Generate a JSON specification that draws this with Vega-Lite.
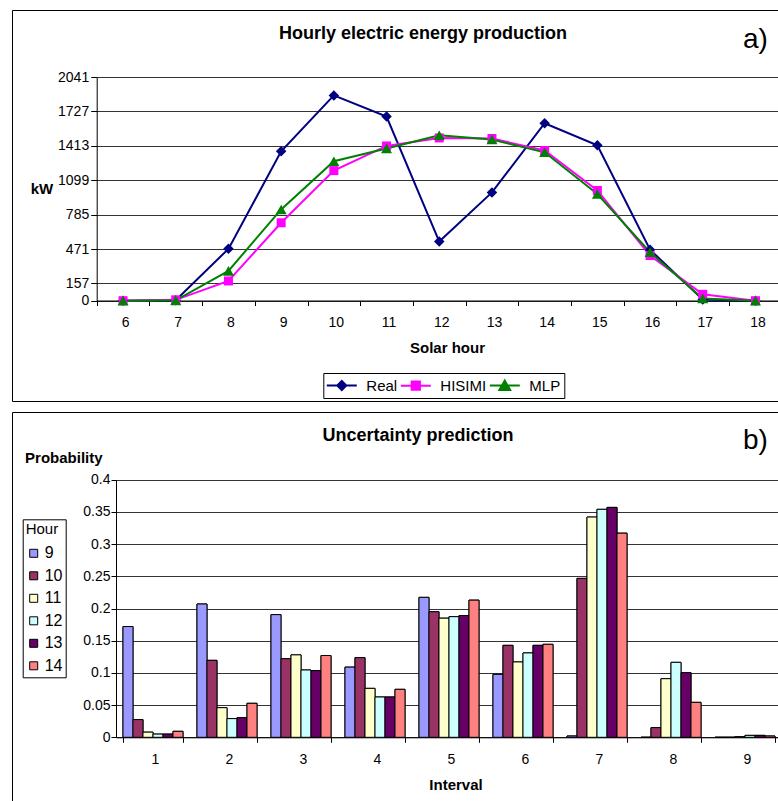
{
  "$schema": "https://vega.github.io/schema/vega-lite/v6.json",
  "padding": {"left": 11, "top": 9, "right": 0, "bottom": 0},
  "spacing": 11,
  "bounds": "flush",
  "resolve": {"scale": {"color": "independent"}, "legend": {"color": "independent"}},
  "vconcat": [
    {
      "width": 775,
      "height": 391,
      "data": {"values": [
        {"hour": 6, "series": "Real", "kW": 0}, {"hour": 7, "series": "Real", "kW": 5}, {"hour": 8, "series": "Real", "kW": 473}, {"hour": 9, "series": "Real", "kW": 1363}, {"hour": 10, "series": "Real", "kW": 1873}, {"hour": 11, "series": "Real", "kW": 1680}, {"hour": 12, "series": "Real", "kW": 540}, {"hour": 13, "series": "Real", "kW": 988}, {"hour": 14, "series": "Real", "kW": 1619}, {"hour": 15, "series": "Real", "kW": 1418}, {"hour": 16, "series": "Real", "kW": 465}, {"hour": 17, "series": "Real", "kW": 10}, {"hour": 18, "series": "Real", "kW": 0},
        {"hour": 6, "series": "HISIMI", "kW": 0}, {"hour": 7, "series": "HISIMI", "kW": 8}, {"hour": 8, "series": "HISIMI", "kW": 180}, {"hour": 9, "series": "HISIMI", "kW": 711}, {"hour": 10, "series": "HISIMI", "kW": 1187}, {"hour": 11, "series": "HISIMI", "kW": 1412}, {"hour": 12, "series": "HISIMI", "kW": 1485}, {"hour": 13, "series": "HISIMI", "kW": 1480}, {"hour": 14, "series": "HISIMI", "kW": 1370}, {"hour": 15, "series": "HISIMI", "kW": 1006}, {"hour": 16, "series": "HISIMI", "kW": 412}, {"hour": 17, "series": "HISIMI", "kW": 58}, {"hour": 18, "series": "HISIMI", "kW": 0},
        {"hour": 6, "series": "MLP", "kW": 0}, {"hour": 7, "series": "MLP", "kW": 3}, {"hour": 8, "series": "MLP", "kW": 272}, {"hour": 9, "series": "MLP", "kW": 833}, {"hour": 10, "series": "MLP", "kW": 1272}, {"hour": 11, "series": "MLP", "kW": 1388}, {"hour": 12, "series": "MLP", "kW": 1510}, {"hour": 13, "series": "MLP", "kW": 1470}, {"hour": 14, "series": "MLP", "kW": 1354}, {"hour": 15, "series": "MLP", "kW": 973}, {"hour": 16, "series": "MLP", "kW": 442}, {"hour": 17, "series": "MLP", "kW": 21}, {"hour": 18, "series": "MLP", "kW": 0}
      ]},
      "title": {"text": "Hourly electric energy production", "anchor": "middle", "frame": "group", "offset": 0, "baseline": "middle", "dx": 23.5, "dy": 41.6},
      "layer": [
        {
          "mark": {"type": "line", "strokeWidth": 2},
          "encoding": {
            "x": {"field": "hour", "type": "ordinal", "scale": {"range": [84.7, 769.8], "paddingInner": 0, "paddingOuter": 0},
              "axis": {"orient": "bottom", "offset": -100.5, "title": "Solar hour", "titleFontSize": 15, "titleFontWeight": "bold", "titleX": 435, "titleY": 47, "titleBaseline": "middle", "titleAlign": "center", "labelAngle": 0, "labelFontSize": 14, "labelPadding": 17, "labelBaseline": "middle", "labelOffset": 2, "tickBand": "extent", "tickSize": 5, "grid": false}},
            "y": {"field": "kW", "type": "quantitative", "scale": {"domain": [0, 2041], "range": [290.7, 67], "nice": false, "zero": true},
              "axis": {"values": [0, 157, 471, 785, 1099, 1413, 1727, 2041], "format": "d", "offset": -84.7, "tickSize": 6, "labelPadding": 2, "labelFontSize": 14, "labelOverlap": false, "grid": true, "title": "kW", "titleAngle": 0, "titleX": -55.2, "titleY": 178.5, "titleAlign": "center", "titleBaseline": "middle", "titleFontSize": 15, "titleFontWeight": "bold"}},
            "color": {"field": "series", "type": "nominal", "scale": {"domain": ["Real", "HISIMI", "MLP"], "range": ["#000080", "#FF00FF", "#008000"]},
              "legend": {"orient": "none", "legendX": 311.3, "legendY": 363, "direction": "horizontal", "title": null, "strokeColor": "black", "fillColor": "white", "padding": 4, "labelFontSize": 15, "symbolSize": 225, "symbolOffset": 6, "labelOffset": 16, "columnPadding": -1, "symbolStrokeWidth": 2,
                "encode": {"symbols": {"update": {
                  "shape": {"signal": "datum.value === 'Real' ? 'M-2,0H2M0,-0.6L0.6,0L0,0.6L-0.6,0Z' : datum.value === 'HISIMI' ? 'M-2,0H2M-0.55,-0.55H0.55V0.55H-0.55Z' : 'M-2,0H2M0,-0.65L0.72,0.6H-0.72Z'"},
                  "fill": {"signal": "datum.value === 'Real' ? '#000080' : datum.value === 'HISIMI' ? '#FF00FF' : '#008000'"},
                  "stroke": {"signal": "datum.value === 'Real' ? '#000080' : datum.value === 'HISIMI' ? '#FF00FF' : '#008000'"},
                  "strokeWidth": {"value": 2},
                  "opacity": {"value": 1}
                }}}}}
          }
        },
        {
          "transform": [{"filter": "datum.series === 'Real'"}],
          "mark": {"type": "point", "shape": "diamond", "size": 110, "filled": true, "opacity": 1},
          "encoding": {
            "x": {"field": "hour", "type": "ordinal",
              "axis": {"orient": "top", "title": "a)", "titleX": 743, "titleY": 29, "titleFontSize": 28, "titleFontWeight": "normal", "titleBaseline": "middle", "titleAlign": "center", "labels": false, "ticks": false, "domain": false, "grid": false}},
            "y": {"field": "kW", "type": "quantitative"},
            "color": {"field": "series", "type": "nominal"}
          }
        },
        {
          "transform": [{"filter": "datum.series === 'HISIMI'"}],
          "mark": {"type": "point", "shape": "square", "size": 81, "filled": true, "opacity": 1},
          "encoding": {
            "x": {"field": "hour", "type": "ordinal", "axis": null},
            "y": {"field": "kW", "type": "quantitative"},
            "color": {"field": "series", "type": "nominal"}
          }
        },
        {
          "transform": [{"filter": "datum.series === 'MLP'"}],
          "mark": {"type": "point", "shape": "triangle-up", "size": 121, "filled": true, "opacity": 1},
          "encoding": {
            "x": {"field": "hour", "type": "ordinal", "axis": null},
            "y": {"field": "kW", "type": "quantitative"},
            "color": {"field": "series", "type": "nominal"}
          }
        }
      ],
      "resolve": {"axis": {"x": "independent"}}
    },
    {
      "width": 775,
      "height": 395,
      "data": {"values": [
        {"interval": 1, "hour": "9", "p": 0.172}, {"interval": 1, "hour": "10", "p": 0.0275}, {"interval": 1, "hour": "11", "p": 0.008}, {"interval": 1, "hour": "12", "p": 0.005}, {"interval": 1, "hour": "13", "p": 0.005}, {"interval": 1, "hour": "14", "p": 0.0093},
        {"interval": 2, "hour": "9", "p": 0.207}, {"interval": 2, "hour": "10", "p": 0.1195}, {"interval": 2, "hour": "11", "p": 0.046}, {"interval": 2, "hour": "12", "p": 0.029}, {"interval": 2, "hour": "13", "p": 0.0305}, {"interval": 2, "hour": "14", "p": 0.0528},
        {"interval": 3, "hour": "9", "p": 0.1905}, {"interval": 3, "hour": "10", "p": 0.122}, {"interval": 3, "hour": "11", "p": 0.128}, {"interval": 3, "hour": "12", "p": 0.1045}, {"interval": 3, "hour": "13", "p": 0.1035}, {"interval": 3, "hour": "14", "p": 0.127},
        {"interval": 4, "hour": "9", "p": 0.109}, {"interval": 4, "hour": "10", "p": 0.1237}, {"interval": 4, "hour": "11", "p": 0.076}, {"interval": 4, "hour": "12", "p": 0.0626}, {"interval": 4, "hour": "13", "p": 0.0626}, {"interval": 4, "hour": "14", "p": 0.0745},
        {"interval": 5, "hour": "9", "p": 0.2173}, {"interval": 5, "hour": "10", "p": 0.195}, {"interval": 5, "hour": "11", "p": 0.185}, {"interval": 5, "hour": "12", "p": 0.1873}, {"interval": 5, "hour": "13", "p": 0.189}, {"interval": 5, "hour": "14", "p": 0.213},
        {"interval": 6, "hour": "9", "p": 0.0978}, {"interval": 6, "hour": "10", "p": 0.1428}, {"interval": 6, "hour": "11", "p": 0.117}, {"interval": 6, "hour": "12", "p": 0.131}, {"interval": 6, "hour": "13", "p": 0.1428}, {"interval": 6, "hour": "14", "p": 0.1444},
        {"interval": 7, "hour": "9", "p": 0.002}, {"interval": 7, "hour": "10", "p": 0.2468}, {"interval": 7, "hour": "11", "p": 0.342}, {"interval": 7, "hour": "12", "p": 0.354}, {"interval": 7, "hour": "13", "p": 0.357}, {"interval": 7, "hour": "14", "p": 0.317},
        {"interval": 8, "hour": "9", "p": 0}, {"interval": 8, "hour": "10", "p": 0.015}, {"interval": 8, "hour": "11", "p": 0.091}, {"interval": 8, "hour": "12", "p": 0.1164}, {"interval": 8, "hour": "13", "p": 0.1004}, {"interval": 8, "hour": "14", "p": 0.0543},
        {"interval": 9, "hour": "9", "p": 0}, {"interval": 9, "hour": "10", "p": 0}, {"interval": 9, "hour": "11", "p": 0.001}, {"interval": 9, "hour": "12", "p": 0.003}, {"interval": 9, "hour": "13", "p": 0.003}, {"interval": 9, "hour": "14", "p": 0.002}
      ]},
      "title": {"text": "Uncertainty prediction", "anchor": "middle", "frame": "group", "offset": 0, "baseline": "middle", "dx": 18.5, "dy": 42.3},
      "layer": [
        {
          "mark": {"type": "bar", "stroke": "black", "strokeWidth": 1},
          "encoding": {
            "x": {"field": "interval", "type": "ordinal", "scale": {"range": [104, 770], "paddingInner": 0.189, "paddingOuter": 0.0945},
              "axis": {"orient": "bottom", "offset": -69.7, "title": "Interval", "titleFontSize": 15, "titleFontWeight": "bold", "titleX": 443.5, "titleY": 46.7, "titleBaseline": "middle", "titleAlign": "center", "labelAngle": 0, "labelFontSize": 14, "labelPadding": 17, "labelBaseline": "middle", "labelOffset": 2, "tickBand": "extent", "tickSize": 5, "grid": false}},
            "xOffset": {"field": "hour", "type": "nominal", "scale": {"domain": ["9", "10", "11", "12", "13", "14"], "paddingInner": 0, "paddingOuter": 0}},
            "y": {"field": "p", "type": "quantitative", "scale": {"domain": [0, 0.4], "range": [325.3, 67.7], "nice": false},
              "axis": {"values": [0, 0.05, 0.1, 0.15, 0.2, 0.25, 0.3, 0.35, 0.4], "format": "~g", "offset": -104, "tickSize": 5, "labelPadding": 1, "labelFontSize": 14, "labelOverlap": false, "grid": true, "title": "Probability", "titleAngle": 0, "titleX": -52.7, "titleY": 45.7, "titleAlign": "center", "titleBaseline": "middle", "titleFontSize": 15, "titleFontWeight": "bold"}},
            "color": {"field": "hour", "type": "nominal", "scale": {"domain": ["9", "10", "11", "12", "13", "14"], "range": ["#9999FF", "#993366", "#FFFFCC", "#CCFFFF", "#660066", "#FF8080"]},
              "legend": {"orient": "none", "legendX": 10.7, "legendY": 107.3, "direction": "vertical", "title": "Hour", "titleFontSize": 15, "titleFontWeight": "normal", "titlePadding": 8, "strokeColor": "black", "fillColor": "white", "padding": 3, "labelFontSize": 16, "labelOffset": 3, "rowPadding": 6.5, "symbolType": "square", "symbolSize": 64, "symbolStrokeColor": "black", "symbolStrokeWidth": 1}}
          }
        },
        {
          "mark": {"type": "bar", "stroke": "black", "strokeWidth": 1},
          "encoding": {
            "x": {"field": "interval", "type": "ordinal",
              "axis": {"orient": "top", "title": "b)", "titleX": 743, "titleY": 28, "titleFontSize": 28, "titleFontWeight": "normal", "titleBaseline": "middle", "titleAlign": "center", "labels": false, "ticks": false, "domain": false, "grid": false}},
            "xOffset": {"field": "hour", "type": "nominal"},
            "y": {"field": "p", "type": "quantitative"},
            "color": {"field": "hour", "type": "nominal"}
          }
        }
      ],
      "resolve": {"axis": {"x": "independent"}}
    }
  ],
  "config": {
    "font": "Liberation Sans",
    "view": {"stroke": "black", "strokeWidth": 1},
    "axis": {"labelColor": "black", "titleColor": "black", "domainColor": "black", "tickColor": "black", "gridColor": "#333333", "labelFont": "Liberation Sans", "titleFont": "Liberation Sans"},
    "legend": {"labelColor": "black", "titleColor": "black", "labelFont": "Liberation Sans", "titleFont": "Liberation Sans"},
    "title": {"color": "black", "font": "Liberation Sans", "fontSize": 18, "fontWeight": "bold"}
  }
}
